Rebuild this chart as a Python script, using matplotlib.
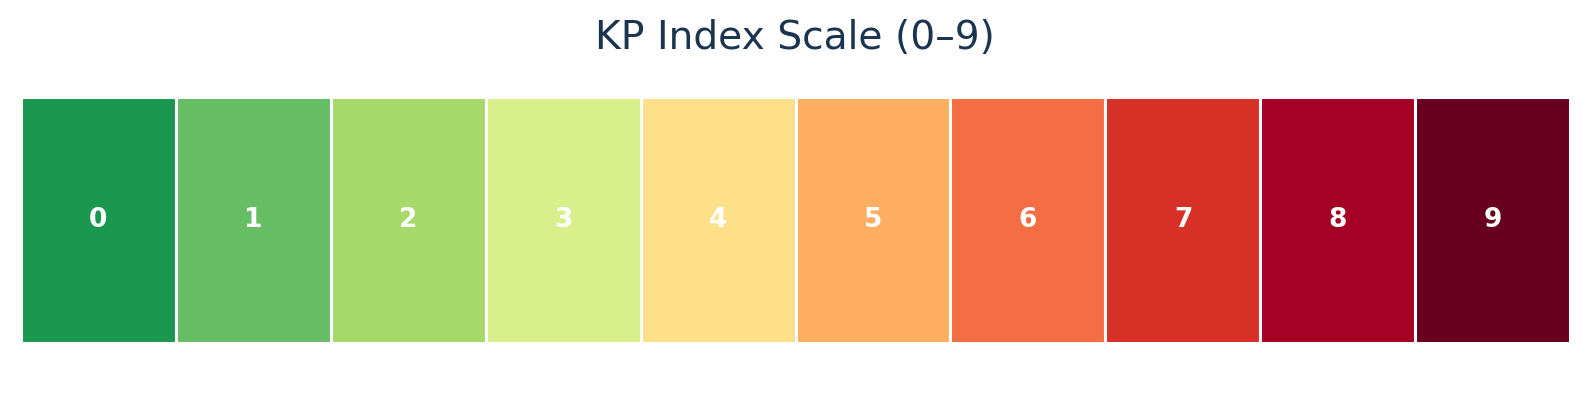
import matplotlib
matplotlib.use('Agg')
import matplotlib.pyplot as plt

# kp scale data
kp_levels = [0, 1, 2, 3, 4, 5, 6, 7, 8, 9]
kp_labels = ['0', '1', '2', '3', '4', '5', '6', '7', '8', '9']
kp_colors = ['#1a9850', '#66bd63', '#a6d96a', '#d9ef8b', '#fee08b',
             '#fdae61', '#f46d43', '#d73027', '#a50026', '#67001f']

W, H = 1589, 394
left, right, top, bottom = 20.6, 1570.4, 97.3, 343.4
fig = plt.figure(figsize=(W / 100, H / 100), dpi=100)
ax = fig.add_axes([left / W, (H - bottom) / H, (right - left) / W, (bottom - top) / H])

ax.bar(kp_levels, [1] * len(kp_levels), width=1, align='edge',
       color=kp_colors, edgecolor='white', linewidth=2.2)

for lvl, lab in zip(kp_levels, kp_labels):
    ax.text(lvl + 0.5, 0.5, lab, ha='center', va='center',
            color='white', fontsize=19, fontweight='bold')

ax.set_xlim(0, 10)
ax.set_ylim(0, 1)
ax.axis('off')

fig.text(0.5, 1 - 38 / H, 'KP Index Scale (0\u20139)', ha='center', va='center',
         fontsize=28.2, color='#1b3550')

fig.savefig('out.png', dpi=100)
